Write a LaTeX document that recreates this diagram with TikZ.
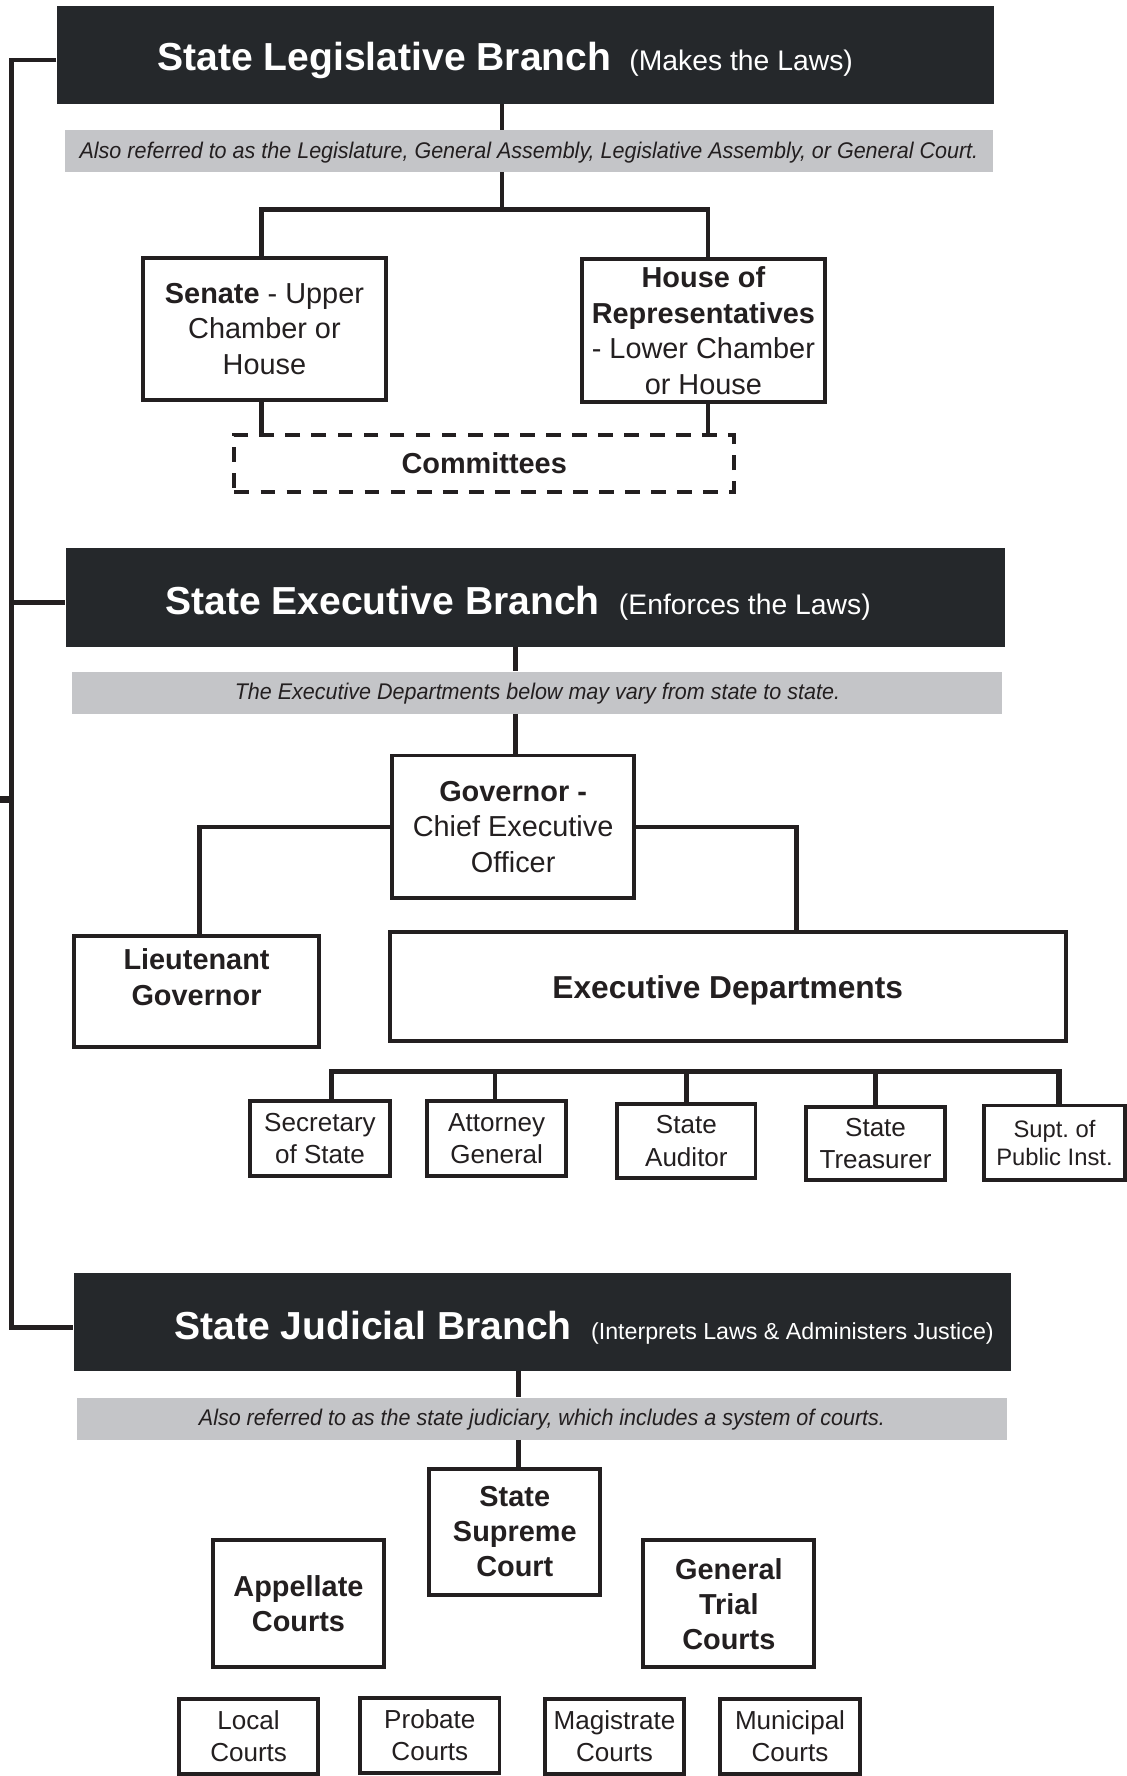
\documentclass[tikz,border=0pt]{standalone}
\usepackage{fontspec}
\setmainfont{Liberation Sans}
\newfontfamily\bandfont{Liberation Sans}[FakeStretch=0.95]
\usetikzlibrary{calc}
\definecolor{hdr}{HTML}{25282B}
\definecolor{bandgray}{HTML}{C4C5C8}
\definecolor{ink}{HTML}{231F20}
\newcommand\fsz[2]{\fontsize{#1pt}{#2pt}\selectfont}
\newcommand\nsp{\frenchspacing\spaceskip=0pt\xspaceskip=0pt\relax}
\newcommand\lowerby[2]{\raisebox{-#1}[\height][\depth]{#2}}
\begin{document}
\begin{tikzpicture}[x=1pt,y=-1pt,
  box/.style={draw=ink, line width=3.5pt, rectangle, inner sep=1pt, align=center, text=ink, font=\fsz{25.5}{31.5}},
  smallbox/.style={box, font=\fsz{23}{28.5}},
  boldbox/.style={box, font=\fsz{25.5}{31}\bfseries},
  hdrbox/.style={fill=hdr, rectangle, inner sep=0pt, text=white, align=left, minimum height=87pt},
  band/.style={fill=bandgray, rectangle, inner sep=0pt, minimum height=37pt, text=ink, font=\bandfont\fsz{20}{24}\itshape},
  conn/.style={draw=ink, line width=4pt},
  rail/.style={draw=ink, line width=4pt}]
\useasboundingbox (0,0) rectangle (995,1568);
\fill[white] (0,0) rectangle (995,1568);

% ---------- Legislative ----------
\node[hdrbox, text width=828pt] (leg) at (464,48.5)
  {\nsp\hspace*{89pt}\lowerby{5pt}{{\fsz{34.5}{40}\bfseries\nsp State Legislative Branch}\hspace{16pt}{\fsz{25}{30}\nsp(Makes the Laws)}}};
\node[band, minimum width=820pt] (band1) at (467,133.5)
  {\nsp\lowerby{1pt}{Also referred to as the Legislature, General Assembly, Legislative Assembly, or General Court.}};
\node[box, minimum width=215pt, minimum height=125pt] (senate) at (233.5,290.5)
  {{\bfseries Senate} - Upper\\Chamber or\\House};
\node[box, minimum width=214pt, minimum height=126pt] (house) at (621,292)
  {{\bfseries House of}\\{\bfseries Representatives}\\- Lower Chamber\\or House};
\node[box, dash pattern=on 13pt off 10pt, minimum width=441pt, minimum height=50pt, font=\fsz{25.5}{31}\bfseries] (committees) at (427.5,409)
  {Committees};

% ---------- Executive ----------
\node[hdrbox, text width=829pt] (exec) at (472.5,527.5)
  {\nsp\hspace*{88pt}\lowerby{5pt}{{\fsz{34.5}{40}\bfseries\nsp State Executive Branch}\hspace{17pt}{\fsz{25}{30}\nsp(Enforces the Laws)}}};
\node[band, minimum width=821pt] (band2) at (474.5,611.5)
  {\nsp\lowerby{1pt}{The Executive Departments below may vary from state to state.}};
\node[box, minimum width=214pt, minimum height=126pt] (gov) at (453,730)
  {{\bfseries Governor -}\\Chief Executive\\Officer};
\node[box, minimum width=217pt, minimum height=98pt] (ltgov) at (173.5,875) {};
\node[align=center, text=ink, font=\fsz{25.5}{32}\bfseries, inner sep=0pt] (ltgovtext) at (173.5,863)
  {Lieutenant\\Governor};
\node[box, minimum width=597pt, minimum height=96pt, font=\fsz{28}{34}\bfseries] (execdept) at (642.5,871)
  {\nsp\lowerby{3pt}{Executive Departments}};
\node[smallbox, minimum width=123pt, minimum height=66pt] (sos) at (282.5,1005) {Secretary\\of State};
\node[smallbox, minimum width=123pt, minimum height=66pt] (ag) at (438.5,1005) {Attorney\\General};
\node[smallbox, minimum width=122pt, minimum height=65pt] (aud) at (606,1007.5) {State\\Auditor};
\node[smallbox, minimum width=122pt, minimum height=65pt] (tre) at (773,1009.5) {State\\Treasurer};
\node[smallbox, minimum width=124pt, minimum height=66pt, font=\fsz{21}{25}] (supt) at (931,1009) {\nsp Supt. of\\\nsp Public Inst.};

% ---------- Judicial ----------
\node[hdrbox, text width=828pt, minimum height=86pt] (jud) at (479,1167)
  {\nsp\hspace*{89pt}\lowerby{5pt}{{\fsz{34.5}{40}\bfseries\nsp State Judicial Branch}\hspace{17pt}{\fsz{20.5}{24}\nsp(Interprets Laws \& Administers Justice)}}};
\node[band, minimum width=821pt] (band3) at (478.5,1252.5)
  {\nsp\lowerby{1pt}{Also referred to as the state judiciary, which includes a system of courts.}};
\node[boldbox, minimum width=151pt, minimum height=111pt] (supreme) at (454.5,1352.5) {State\\Supreme\\Court};
\node[boldbox, minimum width=151pt, minimum height=112pt] (appellate) at (263.5,1416) {Appellate\\Courts};
\node[boldbox, minimum width=151pt, minimum height=112pt] (general) at (643.5,1416) {General\\Trial\\Courts};
\node[smallbox, minimum width=123pt, minimum height=66pt] (local) at (219.5,1533) {Local\\Courts};
\node[smallbox, minimum width=123pt, minimum height=66pt] (probate) at (379.5,1532) {Probate\\Courts};
\node[smallbox, minimum width=123pt, minimum height=66pt] (magis) at (542.5,1533) {Magistrate\\Courts};
\node[smallbox, minimum width=123pt, minimum height=66pt] (munic) at (697.5,1533) {Municipal\\Courts};

% ---------- helper coordinates ----------
\coordinate (xL) at (443,0);
\coordinate (xSen) at (231,0);
\coordinate (xHou) at (625,0);
\coordinate (xE) at (455,0);
\coordinate (xLt) at (176,0);
\coordinate (xED) at (703,0);
\coordinate (xSos) at (293,0);
\coordinate (xAg) at (437,0);
\coordinate (xAud) at (606,0);
\coordinate (xTre) at (773,0);
\coordinate (xSup) at (935,0);
\coordinate (xJ) at (458,0);
\coordinate (legbar) at (0,185);
\coordinate (deptbar) at (0,946);
\coordinate (r1) at (10,53);
\coordinate (r2) at (10,532);
\coordinate (r3) at (10,1172);
\coordinate (stub) at (0,706);

% ---------- connectors ----------
\draw[conn] (xL |- leg.south) -- (xL |- band1.north);
\draw[conn] (xL |- band1.south) -- (xL |- legbar);
\draw[conn] (xSen |- senate.north) -- (xSen |- legbar) -- (xHou |- legbar) -- (xHou |- house.north);
\draw[conn] (xSen |- senate.south) -- (xSen |- committees.north);
\draw[conn] (xHou |- house.south) -- (xHou |- committees.north);

\draw[conn] (xE |- exec.south) -- (xE |- band2.north);
\draw[conn] (xE |- band2.south) -- (xE |- gov.north);
\draw[conn] (gov.west) -- (xLt |- gov.west) -- (xLt |- ltgov.north);
\draw[conn] (gov.east) -- (xED |- gov.east) -- (xED |- execdept.north);
\draw[conn, line width=4.5pt] (xSos |- sos.north) -- (xSos |- deptbar) -- (xSup |- deptbar) -- (xSup |- supt.north);
\draw[conn] (xAg |- deptbar) -- (xAg |- ag.north);
\draw[conn] (xAud |- deptbar) -- (xAud |- aud.north);
\draw[conn] (xTre |- deptbar) -- (xTre |- tre.north);

\draw[conn] (xJ |- jud.south) -- (xJ |- band3.north);
\draw[conn] (xJ |- band3.south) -- (xJ |- supreme.north);

\draw[rail] (leg.west |- r1) -- (r1) -- (r3) -- (jud.west |- r3);
\draw[rail] (r2) -- (exec.west |- r2);
\draw[rail, line width=6pt] (stub) -- (r1 |- stub);
\end{tikzpicture}
\end{document}
